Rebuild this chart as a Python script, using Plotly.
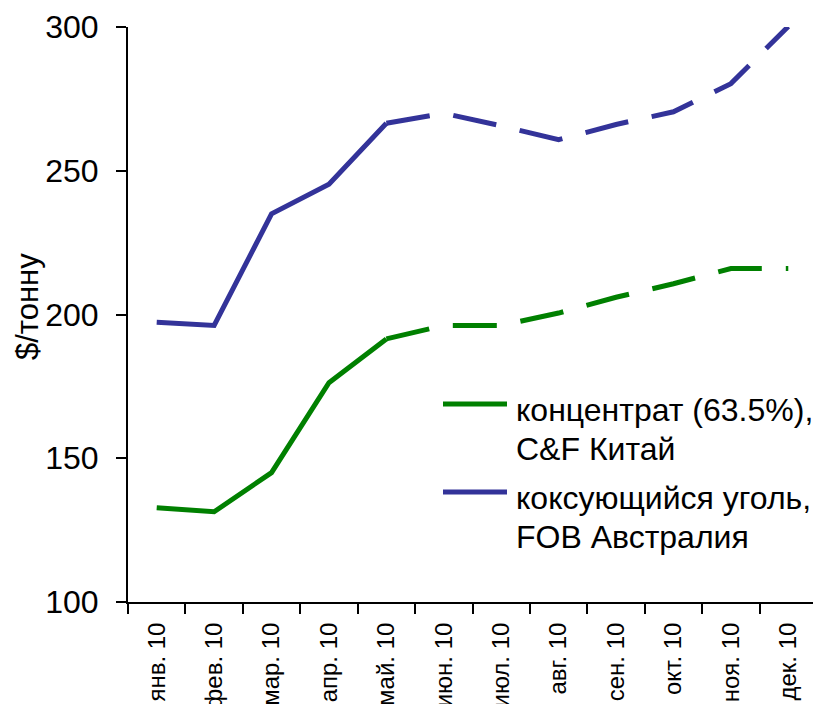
import plotly.graph_objects as go

months = ["янв. 10", "фев. 10", "мар. 10", "апр. 10", "май. 10", "июн. 10",
          "июл. 10", "авг. 10", "сен. 10", "окт. 10", "ноя. 10", "дек. 10"]
concentrate = [132.8, 131.4, 145.0, 176.3, 191.5, 196.2, 196.2, 200.5, 206.0, 210.7, 216.0, 216.0]
coal = [197.3, 196.2, 235.0, 245.3, 266.5, 270.0, 265.6, 260.8, 266.1, 270.5, 280.3, 300.2]
solid_end = 5  # Jan..May actual, May..Dec forecast

legend_lines = [
    ["концентрат (63.5%),", "C&F Китай"],
    ["коксующийся уголь,", "FOB Австралия"],
]
colors = ["#008000", "#333399"]
series = [concentrate, coal]

# page body has an 8px margin; figure sized so the plot lands where the reference has it
W, H = 813, 696
ML, MR, MT, MB = 120, 4, 19, 102
PW, PH = W - ML - MR, H - MT - MB


def px(xw):
    return (xw - 8 - ML) / PW


def py(yw):
    return (H - MB + 8 - yw) / PH


fig = go.Figure()
for vals, col in zip(series, colors):
    fig.add_trace(go.Scatter(x=months[:solid_end], y=vals[:solid_end], mode="lines",
                             showlegend=False, line=dict(color=col, width=5), cliponaxis=False))
    fig.add_trace(go.Scatter(x=months[solid_end - 1:], y=vals[solid_end - 1:], mode="lines",
                             showlegend=False, line=dict(color=col, width=5, dash="44px,24px"),
                             cliponaxis=False))

shapes = []
annotations = []
item_y = [404, 492]
for i, (lines, col) in enumerate(zip(legend_lines, colors)):
    y0 = item_y[i]
    shapes.append(dict(type="line", xref="paper", yref="paper", x0=px(443), x1=px(507),
                       y0=py(y0), y1=py(y0), line=dict(color=col, width=5)))
    for j, t in enumerate(lines):
        annotations.append(dict(text=t, xref="paper", yref="paper", x=px(514),
                                y=py(y0 + 6 + j * 39), xanchor="left", yanchor="middle",
                                showarrow=False, font=dict(size=32)))

annotations.append(dict(text="$/тонну", xref="paper", yref="paper", x=0, y=py(307),
                        xshift=-101, textangle=-90, showarrow=False,
                        font=dict(size=31), xanchor="center", yanchor="middle"))

fig.update_layout(
    width=W, height=H,
    margin=dict(l=ML, r=MR, t=MT, b=MB),
    paper_bgcolor="white", plot_bgcolor="white",
    font=dict(family="Liberation Sans, Arial, sans-serif", color="black"),
    showlegend=False,
    xaxis=dict(type="category", range=[-0.5, 11.5], tickson="boundaries",
               ticks="outside", ticklen=10, tickcolor="black", tickwidth=2,
               showline=True, linecolor="black", linewidth=2,
               tickangle=-90, tickfont=dict(size=24), showgrid=False,
               ticklabelstandoff=9, automargin=False),
    yaxis=dict(range=[100, 300], dtick=50, ticks="outside", ticklen=10,
               tickcolor="black", tickwidth=2, showline=True, linecolor="black",
               linewidth=2, tickfont=dict(size=32), showgrid=False, zeroline=False,
               ticklabelstandoff=11, automargin=False),
    shapes=shapes,
    annotations=annotations,
)

fig.write_html("out.html")
